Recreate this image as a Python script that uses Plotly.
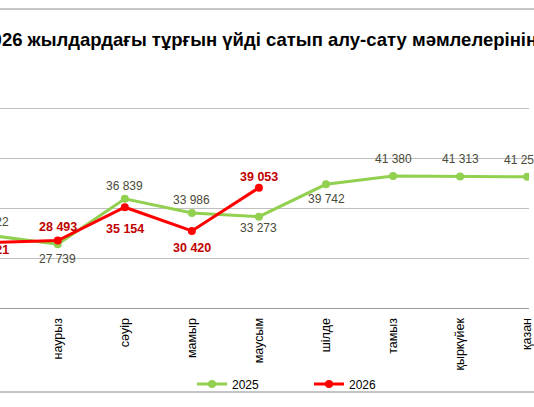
import math
import plotly.graph_objects as go

months = ["қаңтар", "ақпан", "наурыз", "сәуір", "мамыр", "маусым",
          "шілде", "тамыз", "қыркүйек", "қазан", "қараша", "желтоқсан"]
v2025 = [None, 29522, 27739, 36839, 33986, 33273, 39742, 41380, 41313, 41250, None, None]
v2026 = [None, 28121, 28493, 35154, 30420, 39053, None, None, None, None, None, None]
# label offsets in px (positive = below the point), styling only
off2025 = [0, -13, 15, -13, -13, 11, 15, -17, -17, -17, 0, 0]
off2026 = [0, 8, -14, 22, 17, -11, 0, 0, 0, 0, 0, 0]
xoff2025 = [0, 0, 0, 0, 0, 0, 0, 0, 0, -5, 0, 0]
title_text = "2025-2026 жылдардағы тұрғын үйді сатып алу-сату мәмлелерінің саны"

W, H = 534, 407
X_RANGE = [1.139, 9.027]
PX_PER_CAT = W / (X_RANGE[1] - X_RANGE[0])
FIRST_VIS = math.ceil(X_RANGE[0])
GREEN_FONT = dict(family="Liberation Sans, Arial", size=12, color="#4a4a38")
RED_FONT = dict(family="Liberation Sans, Arial", size=12.5, color="#C00000", weight="bold")


def fmt(v):
    return "" if v is None else f"{v:,}".replace(",", " ")


fig = go.Figure()
fig.add_trace(go.Scatter(
    x=months, y=v2025, name="2025", mode="lines+markers",
    line=dict(color="#92D050", width=3), marker=dict(color="#92D050", size=8),
))
fig.add_trace(go.Scatter(
    x=months, y=v2026, name="2026", mode="lines+markers",
    line=dict(color="#FF0000", width=3), marker=dict(color="#FF0000", size=8),
))

annotations = [dict(text="<b>" + title_text + "</b>", xref="paper", yref="paper",
                    x=-0.128, xanchor="left", y=1.072, yanchor="middle", showarrow=False,
                    font=dict(size=18.5, color="black", family="Liberation Sans, Arial"))]
for vals, offs, font, xo in [(v2025, off2025, GREEN_FONT, xoff2025),
                             (v2026, off2026, RED_FONT, [0] * 12)]:
    for i, v in enumerate(vals):
        if v is None:
            continue
        # labels of points left of the visible window are anchored to the first
        # visible category and shifted by whole category widths
        anchor = max(i, FIRST_VIS)
        shift = (i - anchor) * PX_PER_CAT
        annotations.append(dict(x=months[anchor], y=v, xref="x", yref="y", text=fmt(v),
                                showarrow=False, xanchor="center", yanchor="middle",
                                yshift=-offs[i], xshift=xo[i] + shift, font=font))

fig.update_layout(
    width=W, height=H,
    margin=dict(l=0, r=0, t=58, b=99, pad=0),
    paper_bgcolor="white", plot_bgcolor="white",
    font=dict(family="Liberation Sans, Arial", size=12, color="black"),
    showlegend=True,
    legend=dict(orientation="h", x=0.363, xanchor="left", y=-0.304, yanchor="middle",
                entrywidth=72, font=dict(size=12, color="black"), bgcolor="rgba(0,0,0,0)"),
    xaxis=dict(type="category", range=X_RANGE, showgrid=False, showline=True,
               linecolor="#9a9a9a", linewidth=1, ticks="", tickangle=-90,
               ticklabelstandoff=4,
               tickfont=dict(size=12.5, color="black"), fixedrange=True),
    yaxis=dict(range=[15000, 65000], tick0=15000, dtick=10000, showgrid=True,
               gridcolor="#bfbfbf", gridwidth=1, showticklabels=False, showline=False,
               zeroline=False, fixedrange=True),
    annotations=annotations,
    shapes=[
        dict(type="line", xref="paper", yref="paper", x0=-0.2, x1=1.2, y0=1.196, y1=1.196,
             line=dict(color="#8a8a8a", width=1)),
        dict(type="line", xref="paper", yref="paper", x0=-0.2, x1=1.2, y0=-0.336, y1=-0.336,
             line=dict(color="#8a8a8a", width=1)),
    ],
)

fig.write_html("out.html")
